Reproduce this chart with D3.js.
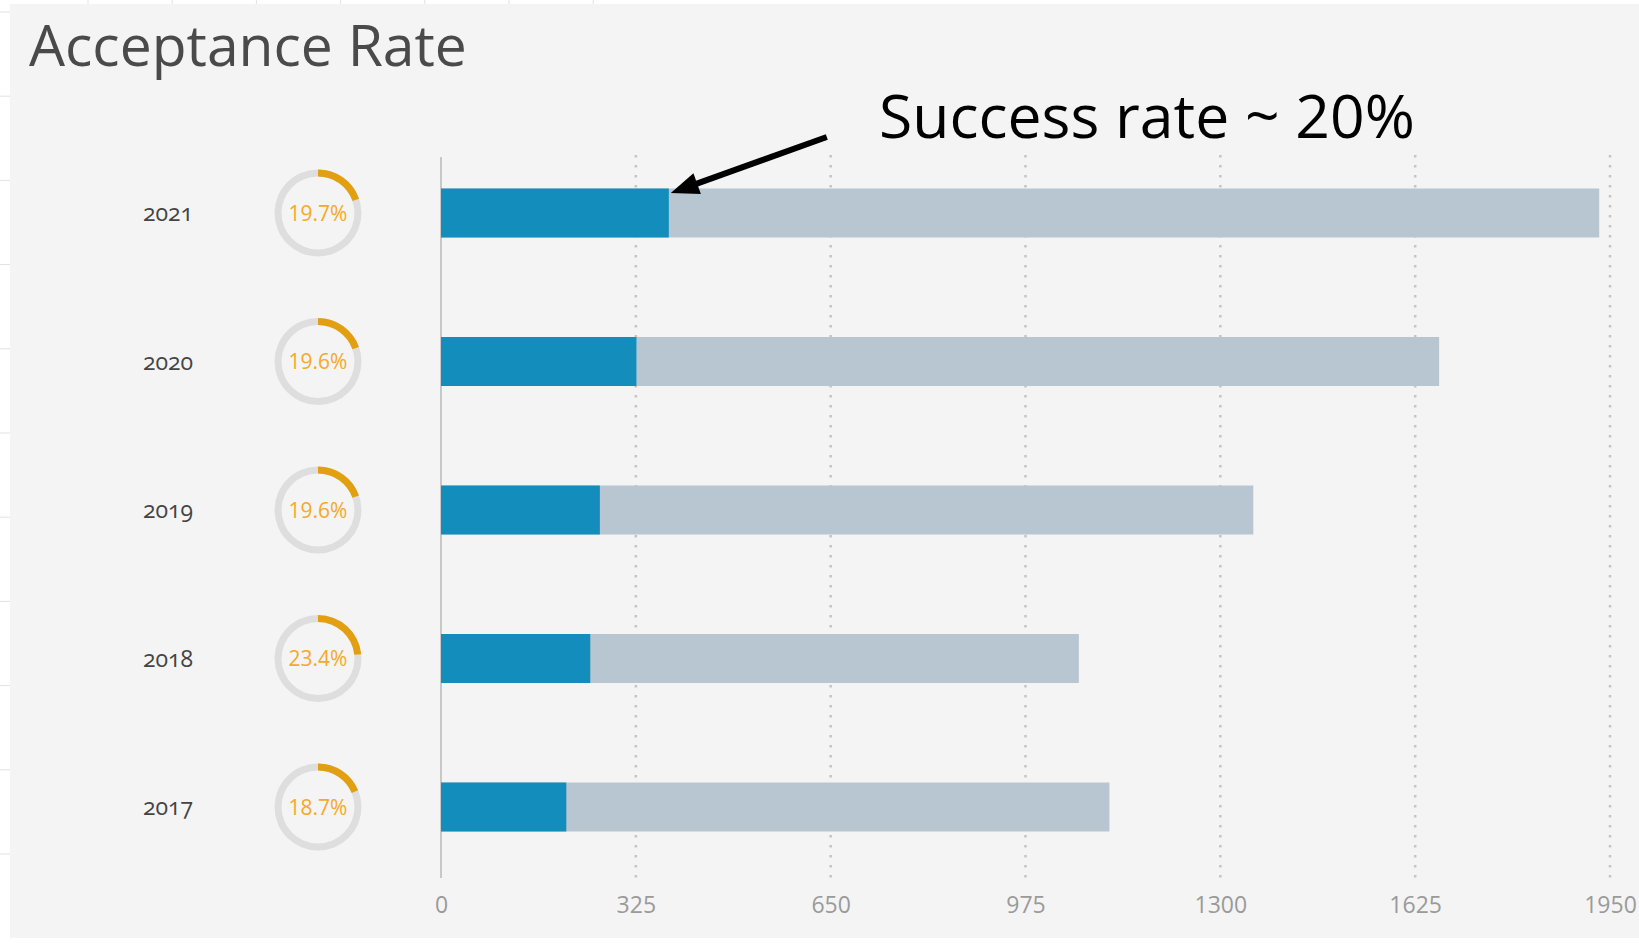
<!DOCTYPE html>
<html>
<head>
<meta charset="utf-8">
<title>Acceptance Rate</title>
<style>
body {
  margin: 0;
  background: #ffffff;
  font-family: "Open Sans", sans-serif;
}

svg {
  display: block;
}

.x.axis text {
  fill: #9a9a9a;
  font-family: "Open Sans", sans-serif;
  font-size: 23px;
}

.grid line {
  stroke: #c4c4c4;
  stroke-width: 2.5px;
  stroke-dasharray: 2.5, 7.5;
}

.year {
  fill: #444444;
  font-family: "Open Sans", sans-serif;
  font-size: 23px;
  font-variant-numeric: oldstyle-nums;
  font-feature-settings: "onum";
}

.rate {
  fill: #f6a928;
  font-size: 21px;
}
</style>
<script src="https://d3js.org/d3.v7.min.js"></script>
</head>
<body>
<script>
// data
const years = ['2021', '2020', '2019', '2018', '2017'];
const applied = [1932, 1665, 1355, 1064, 1115];
const accepted = [380, 326, 265, 249, 209];
const tickValues = [0, 325, 650, 975, 1300, 1625, 1950];

const width = 1639,
  height = 943;

const svg = d3.select('body').append('svg')
  .attr('width', width)
  .attr('height', height);

// excel sheet lines around the chart panel
const sheet = svg.append('g');
sheet.selectAll('line.v')
  .data(d3.range(7))
  .enter().append('line')
    .attr('x1', d => 88 + d * 84.2).attr('x2', d => 88 + d * 84.2)
    .attr('y1', 0).attr('y2', 4)
    .attr('stroke', '#e2e2e2');
sheet.selectAll('line.h')
  .data(d3.range(11))
  .enter().append('line')
    .attr('x1', 0).attr('x2', 10)
    .attr('y1', d => 12 + d * 84.2).attr('y2', d => 12 + d * 84.2)
    .attr('stroke', '#e2e2e2');

svg.append('rect')
  .attr('x', 10)
  .attr('y', 4)
  .attr('width', width - 10)
  .attr('height', 934)
  .attr('fill', '#f4f4f4');

const x = d3.scaleLinear()
  .domain([0, 1950])
  .range([441, 1610]);

const y = d3.scalePoint()
  .domain(years)
  .range([213, 807]);

const barHeight = 49,
  plotTop = 155,
  plotBottom = 878;

// title
const title = svg.append('text')
  .attr('x', 29)
  .attr('y', 66)
  .attr('fill', '#4a4a4a')
  .style('font-size', '60px')
  .text('Acceptance Rate');
fitWidth(title, 438);

// gridlines
svg.append('g')
  .attr('class', 'grid')
  .selectAll('line')
    .data(tickValues.slice(1))
    .enter().append('line')
      .attr('x1', d => x(d))
      .attr('x2', d => x(d))
      .attr('y1', plotTop)
      .attr('y2', plotBottom);

// y axis line
svg.append('line')
  .attr('x1', x(0)).attr('x2', x(0))
  .attr('y1', plotTop + 2).attr('y2', plotBottom)
  .attr('stroke', '#c8c8c8')
  .attr('stroke-width', 2);

// x axis labels
const xAxis = svg.append('g')
  .attr('class', 'x axis')
  .attr('transform', 'translate(0,' + 897 + ')')
  .call(d3.axisBottom(x).tickValues(tickValues).tickFormat(d3.format('d')).tickSize(0).tickPadding(0));
xAxis.select('.domain').remove();
xAxis.selectAll('text').attr('dy', '0.71em');

// bars
const rows = svg.append('g')
  .selectAll('g')
    .data(years)
    .enter().append('g');

rows.append('rect')
  .attr('x', x(0))
  .attr('y', d => y(d) - barHeight / 2)
  .attr('width', (d, i) => x(applied[i]) - x(0))
  .attr('height', barHeight)
  .attr('fill', '#b8c6d1');

rows.append('rect')
  .attr('x', x(0))
  .attr('y', d => y(d) - barHeight / 2)
  .attr('width', (d, i) => x(accepted[i]) - x(0))
  .attr('height', barHeight)
  .attr('fill', '#138dbb');

// year labels
rows.append('text')
  .attr('class', 'year')
  .attr('x', 168)
  .attr('y', d => y(d))
  .attr('dy', '0.35em')
  .attr('text-anchor', 'middle')
  .text(d => d);

// rate donuts
const ring = d3.arc()
  .innerRadius(36.5)
  .outerRadius(43.5)
  .startAngle(0);

const donut = rows.append('g')
  .attr('transform', d => 'translate(318,' + y(d) + ')');

donut.append('path')
  .attr('d', ring.endAngle(2 * Math.PI)())
  .attr('fill', '#dedede');

donut.append('path')
  .attr('d', (d, i) => ring.endAngle(2 * Math.PI * accepted[i] / applied[i])())
  .attr('fill', '#e2a010');

donut.append('text')
  .attr('class', 'rate')
  .attr('text-anchor', 'middle')
  .attr('dy', '0.36em')
  .text((d, i) => d3.format('.1f')(100 * accepted[i] / applied[i]) + '%');

// annotation
const note = svg.append('text')
  .attr('x', 879)
  .attr('y', 138)
  .attr('fill', '#000000')
  .style('font-size', '62px')
  .text('Success rate ~ 20%');
fitWidth(note, 536);

const tip = [x(accepted[0]) + 2, y(years[0]) - 20],
  tail = [tip[0] + 156, tip[1] - 56];
const len = Math.hypot(tail[0] - tip[0], tail[1] - tip[1]),
  ux = (tail[0] - tip[0]) / len,
  uy = (tail[1] - tip[1]) / len,
  headLen = 28,
  headHalf = 11;

svg.append('line')
  .attr('x1', tail[0]).attr('y1', tail[1])
  .attr('x2', tip[0] + ux * (headLen - 4)).attr('y2', tip[1] + uy * (headLen - 4))
  .attr('stroke', '#000000')
  .attr('stroke-width', 6);

svg.append('path')
  .attr('d', 'M' + tip[0] + ',' + tip[1] +
    'L' + (tip[0] + ux * headLen - uy * headHalf) + ',' + (tip[1] + uy * headLen + ux * headHalf) +
    'L' + (tip[0] + ux * headLen + uy * headHalf) + ',' + (tip[1] + uy * headLen - ux * headHalf) + 'Z')
  .attr('fill', '#000000');

function fitWidth(sel, target) {
  const size = parseFloat(sel.style('font-size'));
  const w = sel.node().getComputedTextLength();
  if (w > 0) sel.style('font-size', (size * target / w) + 'px');
}
</script>
</body>
</html>
